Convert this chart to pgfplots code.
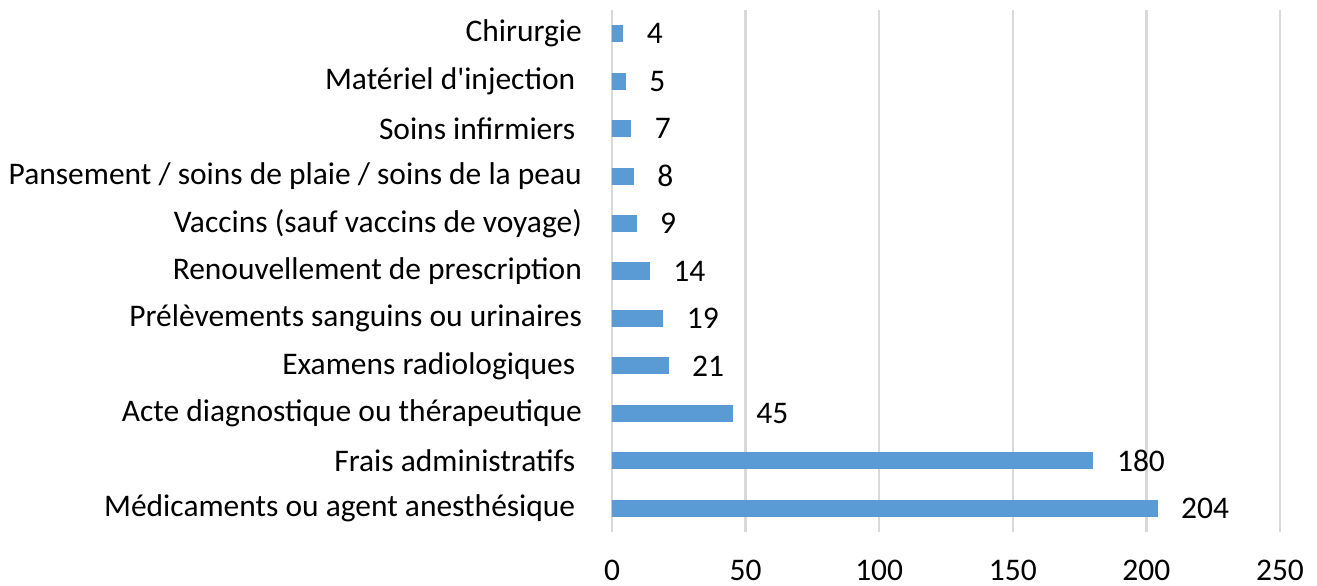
\documentclass[border=0pt]{standalone}
\usepackage{fontspec}
\setmainfont{Carlito}
\usepackage{pgfplots}
\pgfplotsset{compat=1.18}
\definecolor{barblue}{RGB}{91,155,213}
\definecolor{gridgray}{RGB}{217,217,217}

\pgfplotstableread{
y val
0 204
1 180
2 45
3 21
4 19
5 14
6 9
7 8
8 7
9 5
10 4
}\costs

\newcommand{\tsp}{\kern2.5pt}

\begin{document}
\begin{tikzpicture}
\path[use as bounding box] (-229.5pt,-19.875pt) rectangle (264.375pt,199.5pt);
\begin{axis}[
  scale only axis, width=250.5pt, height=195.75pt,
  xbar, bar width=6pt,
  xmin=0, xmax=250, ymin=-0.5, ymax=10.5,
  xtick={0,50,...,250},
  ytick={0,...,10},
  yticklabels={Médicaments ou agent anesthésique\tsp,Frais administratifs\tsp,
    Acte diagnostique ou thérapeutique,Examens radiologiques\tsp,
    Prélèvements sanguins ou urinaires,Renouvellement de prescription,
    Vaccins (sauf vaccins de voyage),Pansement / soins de plaie / soins de la peau,
    Soins infirmiers\tsp,Matériel d\textquotesingle injection\tsp,Chirurgie},
  axis line style={draw=none},
  major tick style={draw=none},
  xmajorgrids, major grid style={gridgray, line width=0.9pt},
  font=\fontsize{11.8}{13}\selectfont,
  /pgf/number format/assume math mode=true,
  xticklabel style={yshift=-7pt},
  yticklabel style={xshift=-3.5pt},
  nodes near coords,
  nodes near coords style={anchor=west, xshift=5.5pt, text=black},
]
\addplot[fill=barblue, draw=barblue] table[x=val, y=y] {\costs};
\end{axis}
\end{tikzpicture}
\end{document}
